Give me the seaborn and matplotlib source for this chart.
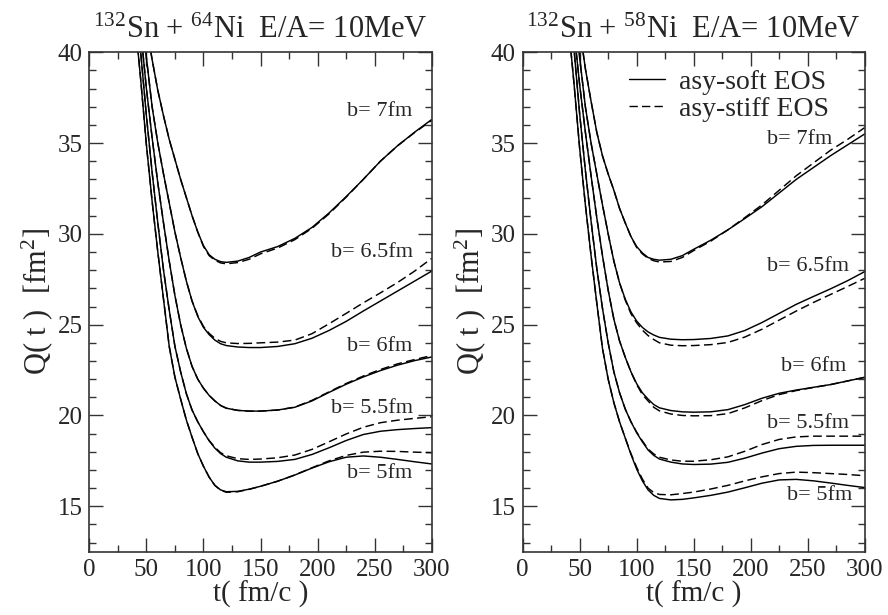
import numpy as np
import pandas as pd
import matplotlib
matplotlib.use("Agg")
import matplotlib.pyplot as plt
import seaborn as sns
from matplotlib.lines import Line2D
from matplotlib.ticker import MultipleLocator

# time grid (fm/c) shared by all curves
t = [40, 45, 50, 55, 60, 65, 70, 75, 80, 85, 90, 95, 100, 105, 110, 115, 120,
     130, 140, 150, 165, 180, 195, 210, 225, 240, 255, 270, 285, 300]

impact = [5.0, 5.5, 6.0, 6.5, 7.0]
b_labels = ["b= 5fm", "b= 5.5fm", "b= 6fm", "b= 6.5fm", "b= 7fm"]

# 132Sn + 64Ni, Q(t) in fm^2
ni64_soft = {
    5.0: [41.8, 38.5, 34.9, 31.8, 29.0, 26.4, 23.8, 22.1, 20.9, 19.75, 18.8, 17.9, 17.2, 16.6, 16.15, 15.9, 15.8,
          15.82, 15.94, 16.1, 16.38, 16.72, 17.1, 17.45, 17.7, 17.77, 17.7, 17.58, 17.45, 17.33],
    5.5: [42.8, 40.0, 36.5, 33.4, 30.6, 28.0, 25.8, 23.8, 22.4, 21.2, 20.3, 19.65, 19.1, 18.6, 18.2, 17.9, 17.7,
          17.5, 17.43, 17.43, 17.47, 17.58, 17.85, 18.22, 18.62, 18.95, 19.13, 19.22, 19.28, 19.33],
    6.0: [44.0, 41.2, 38.0, 35.3, 32.8, 30.6, 28.5, 26.6, 25.0, 23.7, 22.7, 22.0, 21.5, 21.1, 20.8, 20.55, 20.4,
          20.28, 20.24, 20.24, 20.3, 20.45, 20.8, 21.27, 21.72, 22.12, 22.47, 22.77, 23.02, 23.22],
    6.5: [46.5, 43.5, 39.7, 37.0, 35.0, 33.3, 31.7, 30.1, 28.7, 27.4, 26.3, 25.45, 24.85, 24.45, 24.15, 23.95, 23.85,
          23.77, 23.74, 23.74, 23.8, 23.95, 24.25, 24.68, 25.18, 25.75, 26.3, 26.85, 27.4, 27.95],
    7.0: [46.0, 43.5, 41.5, 39.6, 37.9, 36.5, 35.2, 34.1, 33.0, 32.0, 31.0, 30.1, 29.35, 28.85, 28.6, 28.47, 28.43,
          28.5, 28.7, 29.0, 29.3, 29.75, 30.35, 31.15, 32.05, 33.0, 34.0, 34.85, 35.6, 36.3],
}
ni64_stiff = {
    5.0: [41.8, 38.5, 34.9, 31.8, 29.0, 26.4, 23.8, 22.1, 20.9, 19.75, 18.8, 17.9, 17.2, 16.6, 16.15, 15.88, 15.77,
          15.8, 15.93, 16.1, 16.38, 16.72, 17.12, 17.5, 17.8, 17.98, 18.03, 18.02, 17.98, 17.95],
    5.5: [42.8, 40.0, 36.5, 33.4, 30.6, 28.0, 25.8, 23.8, 22.4, 21.2, 20.3, 19.65, 19.1, 18.62, 18.25, 17.95, 17.78,
          17.62, 17.58, 17.6, 17.67, 17.82, 18.13, 18.55, 18.98, 19.35, 19.6, 19.74, 19.84, 19.93],
    6.0: [44.0, 41.2, 38.0, 35.3, 32.8, 30.6, 28.5, 26.6, 25.0, 23.7, 22.7, 22.0, 21.5, 21.1, 20.8, 20.55, 20.4,
          20.28, 20.24, 20.24, 20.3, 20.46, 20.83, 21.3, 21.76, 22.17, 22.53, 22.84, 23.08, 23.3],
    6.5: [46.5, 43.5, 39.7, 37.0, 35.0, 33.3, 31.7, 30.1, 28.7, 27.4, 26.3, 25.5, 24.9, 24.52, 24.25, 24.08, 24.0,
          23.96, 23.97, 24.0, 24.04, 24.15, 24.5, 25.05, 25.62, 26.2, 26.75, 27.32, 27.95, 28.65],
    7.0: [46.0, 43.5, 41.5, 39.6, 37.9, 36.5, 35.2, 34.1, 33.0, 32.0, 31.0, 30.1, 29.3, 28.8, 28.55, 28.4, 28.35,
          28.42, 28.6, 28.9, 29.22, 29.68, 30.3, 31.1, 32.02, 33.0, 34.0, 34.85, 35.58, 36.25],
}

# 132Sn + 58Ni
ni58_soft = {
    5.0: [41.6, 38.3, 34.7, 31.6, 28.8, 26.2, 23.7, 22.0, 20.7, 19.65, 18.75, 17.85, 17.05, 16.4, 15.9, 15.6, 15.43,
          15.35, 15.38, 15.46, 15.6, 15.78, 16.02, 16.27, 16.45, 16.48, 16.4, 16.28, 16.15, 16.03],
    5.5: [42.8, 40.2, 36.6, 33.5, 30.7, 28.1, 25.9, 24.0, 22.4, 21.25, 20.35, 19.65, 19.05, 18.55, 18.1, 17.8, 17.6,
          17.43, 17.33, 17.3, 17.32, 17.42, 17.65, 17.93, 18.17, 18.3, 18.35, 18.36, 18.36, 18.36],
    6.0: [44.0, 41.2, 38.2, 35.6, 33.2, 30.9, 28.8, 26.9, 25.3, 24.1, 23.2, 22.4, 21.75, 21.25, 20.9, 20.6, 20.42,
          20.27, 20.2, 20.18, 20.2, 20.32, 20.6, 20.95, 21.22, 21.4, 21.55, 21.7, 21.9, 22.1],
    6.5: [46.5, 43.5, 39.7, 37.0, 35.0, 33.3, 31.6, 30.0, 28.5, 27.3, 26.4, 25.7, 25.2, 24.85, 24.6, 24.43, 24.3,
          24.2, 24.17, 24.18, 24.24, 24.38, 24.68, 25.12, 25.62, 26.12, 26.55, 26.97, 27.42, 27.92],
    7.0: [45.0, 43.5, 41.3, 39.1, 37.3, 35.6, 34.3, 33.3, 32.4, 31.4, 30.6, 29.85, 29.3, 28.95, 28.7, 28.6, 28.55,
          28.6, 28.8, 29.15, 29.65, 30.22, 30.85, 31.5, 32.25, 33.0, 33.65, 34.3, 34.9, 35.5],
}
ni58_stiff = {
    5.0: [41.6, 38.3, 34.7, 31.6, 28.8, 26.2, 23.7, 22.0, 20.7, 19.65, 18.75, 17.9, 17.15, 16.5, 16.0, 15.75, 15.65,
          15.63, 15.7, 15.78, 15.95, 16.15, 16.4, 16.62, 16.8, 16.88, 16.85, 16.8, 16.75, 16.68],
    5.5: [42.8, 40.2, 36.6, 33.5, 30.7, 28.1, 25.9, 24.0, 22.4, 21.25, 20.35, 19.65, 19.08, 18.6, 18.15, 17.88, 17.7,
          17.55, 17.48, 17.48, 17.56, 17.72, 18.03, 18.4, 18.68, 18.82, 18.86, 18.86, 18.86, 18.86],
    6.0: [44.0, 41.2, 38.2, 35.6, 33.2, 30.9, 28.8, 26.9, 25.3, 24.1, 23.2, 22.4, 21.7, 21.15, 20.8, 20.45, 20.25,
          20.08, 20.0, 19.98, 19.99, 20.1, 20.42, 20.82, 21.15, 21.37, 21.54, 21.7, 21.9, 22.1],
    6.5: [46.5, 43.5, 39.7, 37.0, 35.0, 33.3, 31.6, 30.0, 28.5, 27.3, 26.35, 25.6, 25.1, 24.7, 24.4, 24.18, 24.0,
          23.87, 23.84, 23.85, 23.9, 24.02, 24.32, 24.75, 25.25, 25.75, 26.22, 26.66, 27.1, 27.55],
    7.0: [45.0, 43.5, 41.3, 39.1, 37.3, 35.6, 34.3, 33.3, 32.4, 31.4, 30.6, 29.85, 29.25, 28.9, 28.65, 28.52, 28.45,
          28.48, 28.7, 29.08, 29.6, 30.22, 30.9, 31.6, 32.4, 33.2, 33.9, 34.6, 35.2, 35.85],
}

titles = [r"$^{132}$Sn + $^{64}$Ni  E/A= 10MeV", r"$^{132}$Sn + $^{58}$Ni  E/A= 10MeV"]

# where the b= labels sit (right edge of text, data coords)
lab_t = [[282.5, 284, 282.5, 284, 282.5], [289, 286, 284, 286, 271.6]]
lab_q = [[16.79, 20.37, 23.77, 29.0, 36.73], [15.59, 19.58, 22.67, 28.2, 35.2]]

# long table for seaborn
rows = []
for panel, (soft, stiff) in enumerate([(ni64_soft, ni64_stiff), (ni58_soft, ni58_stiff)]):
    for eos, d in [("asy-soft EOS", soft), ("asy-stiff EOS", stiff)]:
        for b in impact:
            for tt, q in zip(t, d[b]):
                rows.append((panel, eos, b, tt, q))
df = pd.DataFrame(rows, columns=["panel", "eos", "b", "t", "Q"])

sns.set_theme(style="ticks")
plt.rcParams["font.family"] = ["Liberation Serif", "DejaVu Serif"]
plt.rcParams["mathtext.fontset"] = "custom"
plt.rcParams["mathtext.rm"] = "Liberation Serif"
plt.rcParams["mathtext.it"] = "Liberation Serif:italic"

fig = plt.figure(figsize=(8.88, 6.15), dpi=100)
axes = [fig.add_axes([0.1006, 0.103, 0.3856, 0.812]),
        fig.add_axes([0.5886, 0.103, 0.3851, 0.812])]

for i, ax in enumerate(axes):
    sub = df[df["panel"] == i]
    sns.lineplot(data=sub, x="t", y="Q", units="b", style="eos", estimator=None,
                 dashes={"asy-soft EOS": "", "asy-stiff EOS": (6, 3)},
                 color="black", lw=1.05, legend=False, sort=False, ax=ax)
    ax.set_xlim(0, 300)
    ax.set_ylim(12.5, 40)
    ax.xaxis.set_major_locator(MultipleLocator(50))
    ax.xaxis.set_minor_locator(MultipleLocator(25))
    ax.yaxis.set_major_locator(MultipleLocator(5))
    ax.yaxis.set_minor_locator(MultipleLocator(1))
    ax.tick_params(which="both", direction="in", top=True, right=True, width=1.0,
                   labelsize=18, pad=5, color="#333333")
    ax.tick_params(which="major", length=10)
    ax.tick_params(which="minor", length=5)
    for s in ax.spines.values():
        s.set_linewidth(1.2)
        s.set_color("#333333")
    ax.set_xlabel("t( fm/c )", fontsize=21, labelpad=0)
    ax.set_ylabel("Q( t )  [fm$^{2}$]", fontsize=22, labelpad=2)
    ax.set_title(titles[i], fontsize=22, pad=10)
    for lab, xt, yq in zip(b_labels, lab_t[i], lab_q[i]):
        ax.text(xt, yq, lab, ha="right", va="center", fontsize=16)

handles = [Line2D([], [], color="black", lw=1.0),
           Line2D([], [], color="black", lw=1.0, dashes=(6, 3))]
axes[1].legend(handles, ["asy-soft EOS", "asy-stiff EOS"], loc="upper left",
               bbox_to_anchor=(0.31, 0.965), frameon=False, fontsize=20,
               handlelength=1.3, handletextpad=0.5, labelspacing=0.05,
               borderpad=0, borderaxespad=0)

fig.savefig("out.png", dpi=100)
